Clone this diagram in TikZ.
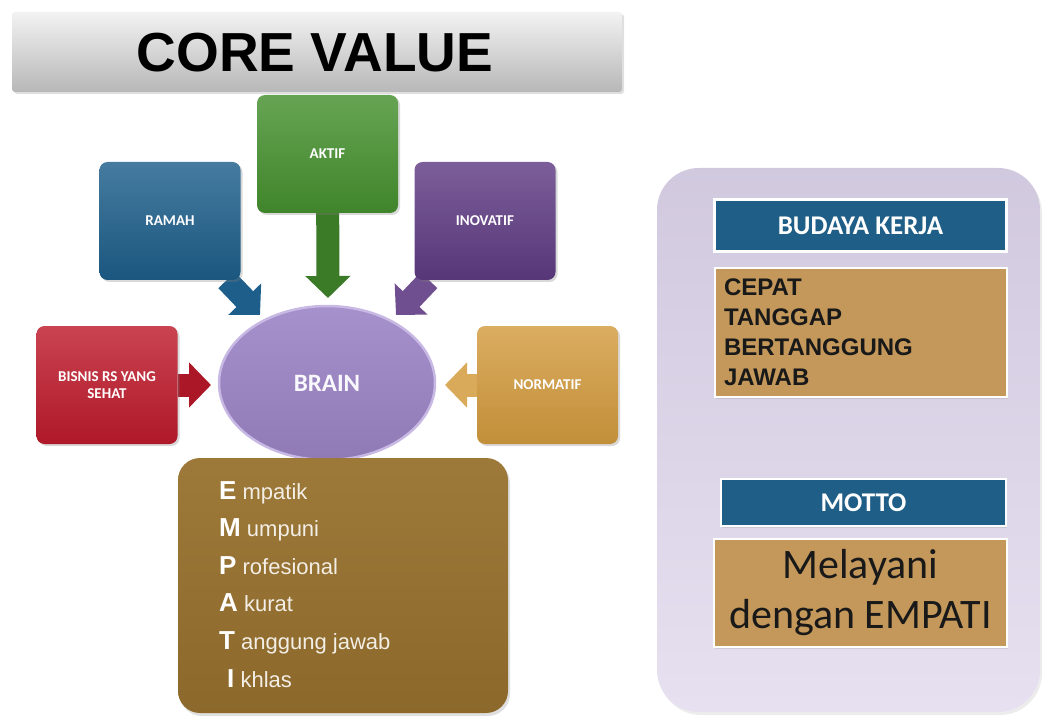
\documentclass[tikz,border=0pt]{standalone}
\usepackage{fontspec}
\newfontfamily\arialfont{Liberation Sans}
\newfontfamily\calibrifont{Carlito}
\usetikzlibrary{shapes.geometric,arrows.meta,shadows,backgrounds}

\definecolor{ramahblue}{HTML}{1D5E8A}
\definecolor{aktifgreen}{HTML}{45902E}
\definecolor{inovpurple}{HTML}{5F3B83}
\definecolor{bisnisred}{HTML}{BE1A2B}
\definecolor{normorange}{HTML}{D39B3E}
\definecolor{brainviolet}{HTML}{9C85C6}
\definecolor{brainrim}{HTML}{C8B8E4}
\definecolor{empbrown}{HTML}{98722F}
\definecolor{paneltint}{HTML}{DCD3EA}
\definecolor{headblue}{HTML}{1F5E86}
\definecolor{bodybrown}{HTML}{C4985A}

\tikzset{
  valbox/.style={rectangle, rounded corners=8pt, minimum width=141pt, minimum height=118pt,
    top color=#1!82!white, bottom color=#1!92!black, text=white, align=center,
    font=\calibrifont\bfseries\fontsize{15}{17}\selectfont,
    drop shadow={opacity=0.3, shadow xshift=2pt, shadow yshift=-2pt}},
  valarrow/.style={line width=23pt, -{Triangle[width=44pt,length=22pt]}},
  headbox/.style={rectangle, fill=headblue, draw=white, line width=2.5pt, minimum height=52pt,
    text=white, font=\calibrifont\bfseries\fontsize{27}{30}\selectfont,
    drop shadow={opacity=0.2, shadow xshift=1pt, shadow yshift=-2pt}},
  bodybox/.style={rectangle, fill=bodybrown, draw=white, line width=2.5pt,
    drop shadow={opacity=0.2, shadow xshift=1pt, shadow yshift=-2pt}},
  emptext/.style={font=\arialfont\fontsize{22}{27}\selectfont, text=white!88!empbrown, inner sep=0pt}
}

\begin{document}
\begin{tikzpicture}[x=1pt,y=-1pt]
\useasboundingbox (0,0) rectangle (1049,719);

% title
\node[rectangle, rounded corners=3pt, minimum width=610pt, minimum height=80pt,
  top color=white!95!black, bottom color=white!72!black,
  drop shadow={opacity=0.25, shadow xshift=2pt, shadow yshift=-2pt}] (title) at (317,52) {};
\node[font=\arialfont\bfseries\fontsize{55}{60}\selectfont] (titletext) at (315,52.5) {CORE VALUE};

% the five values
\node[valbox=aktifgreen] (aktif) at (327.5,154) {AKTIF};
\node[valbox=ramahblue] (ramah) at (170,221) {RAMAH};
\node[valbox=inovpurple] (inovatif) at (485,221) {INOVATIF};
\node[valbox=bisnisred] (bisnis) at (107,385) {BISNIS RS YANG\\SEHAT};
\node[valbox=normorange] (normatif) at (547.5,385) {NORMATIF};

% brain
\node[ellipse, minimum width=216pt, minimum height=154pt, inner sep=0pt,
  top color=brainviolet!90!white, bottom color=brainviolet!92!black, draw=brainrim, line width=2.5pt,
  text=white!94!brainviolet, font=\calibrifont\bfseries\fontsize{25}{28}\selectfont] (brain) at (327,383) {BRAIN};

% arrows into brain
\coordinate (aktiftip) at (328,298);
\coordinate (ramahtip) at (260,315);
\coordinate (inovtip) at (396,315);
\coordinate (bisnistip) at (211,385);
\coordinate (normtip) at (445,385);
\begin{scope}[on background layer]
  \draw[valarrow, aktifgreen!85!black] (aktif) -- (aktiftip);
  \draw[valarrow, ramahblue] (ramah) -- (ramahtip);
  \draw[valarrow, inovpurple!90!white] (inovatif) -- (inovtip);
  \draw[valarrow, bisnisred!90!black] (bisnis) -- (bisnistip);
  \draw[valarrow, normorange!85!white] (normatif) -- (normtip);
\end{scope}

% EMPATI
\node[rectangle, rounded corners=22pt, minimum width=330pt, minimum height=255pt,
  top color=empbrown!95!white, bottom color=empbrown!92!black,
  drop shadow={opacity=0.25, shadow xshift=2pt, shadow yshift=-3pt}] (empati) at (343,585.5) {};
\foreach \initial/\wrd/\dx [count=\i] in {E/mpatik/0, M/umpuni/0, P/rofesional/0, A/kurat/0, T/anggung jawab/0, I/khlas/8}
  \node[emptext, anchor=base west] (emp\i) at (219+\dx, 499+37.6*\i-37.6)
    {\textcolor{white}{\fontsize{26}{27}\selectfont\bfseries\initial} \wrd};

% right panel
\node[rectangle, rounded corners=42pt, minimum width=383pt, minimum height=544pt,
  top color=paneltint!95!black, bottom color=paneltint!70!white,
  drop shadow={opacity=0.15, shadow xshift=2pt, shadow yshift=-3pt}] (panel) at (848.5,440) {};

\node[headbox, minimum width=292pt] (budaya) at (860.5,225.5) {BUDAYA KERJA};
\node[bodybox, minimum width=292pt, minimum height=129pt, text width=274pt, inner sep=9pt,
  align=left, font=\arialfont\bfseries\fontsize{24}{30}\selectfont, text=black!90] (kerja) at (861,332.5)
  {CEPAT\\TANGGAP\\BERTANGGUNG\\JAWAB};

\node[headbox, minimum width=285pt, minimum height=47pt] (motto) at (863.5,502.5) {MOTTO};
\node[bodybox, minimum width=293pt, minimum height=108pt, align=center,
  font=\calibrifont\fontsize{42}{50}\selectfont, text=black!90] (melayani) at (860.5,593)
  {Melayani\\dengan EMPATI};

\end{tikzpicture}
\end{document}
